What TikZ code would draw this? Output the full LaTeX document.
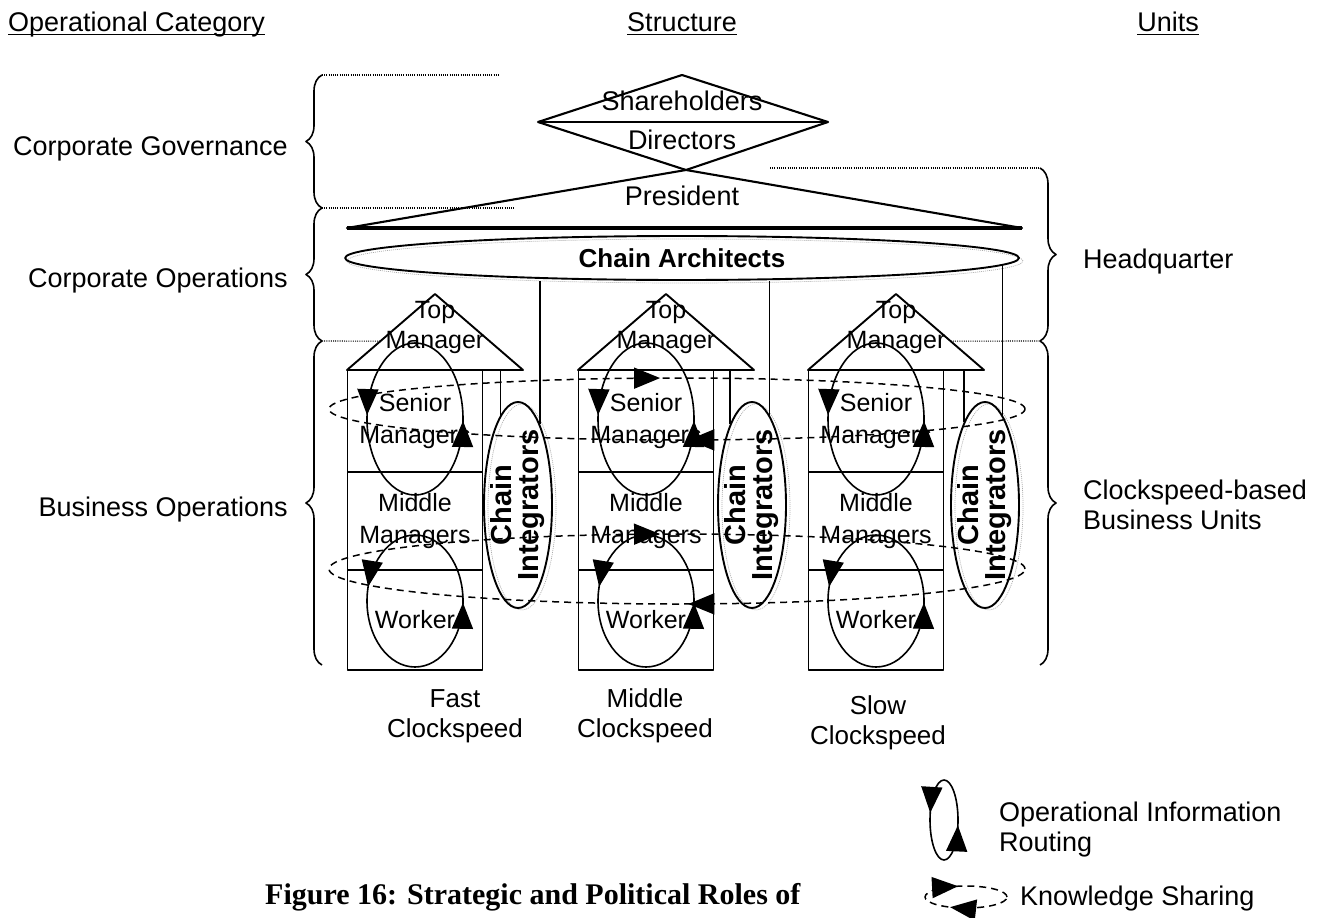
\documentclass[tikz,border=0pt]{standalone}
\usepackage{fontspec}
\setmainfont{Liberation Sans}
\newfontfamily\capfont{Liberation Serif}
\usetikzlibrary{shapes.geometric,decorations.pathreplacing,decorations.markings,arrows.meta,calc}

% underlined heading with the rule just below the baseline
\newcommand\headrule[1]{\setbox0\hbox{#1}\rlap{\rule[-4pt]{\wd0}{1.3pt}}\box0}

\tikzset{
  lbl/.style={font=\fontsize{27}{30}\selectfont, inner sep=0pt, align=center},
  sublbl/.style={font=\fontsize{26}{30}\selectfont, inner sep=0pt, align=center},
  boldlbl/.style={font=\fontsize{29}{27}\selectfont\bfseries, inner sep=0pt, align=center},
  cell/.style={draw, line width=1.9pt, minimum width=135pt, inner sep=0pt, align=center,
               font=\fontsize{25}{32}\selectfont},
  roofline/.style={line width=1.9pt},
  conn/.style={line width=1.6pt},
  bracket/.style={decorate, decoration={brace, amplitude=16pt}, line width=1.6pt},
  guide/.style={line width=1.1pt, dash pattern=on 1pt off 1.2pt},
  integ/.style={ellipse, draw, line width=1.9pt, minimum width=68pt, minimum height=206pt, inner sep=0pt},
  halo/.style={draw=gray!65, line width=0.7pt, dash pattern=on 1pt off 1pt},
  opflow/.style 2 args={line width=1.6pt, postaction={decorate},
     decoration={markings,
       mark=at position #1 with {\arrow{Triangle[length=26pt,width=21pt]}},
       mark=at position #2 with {\arrow{Triangle[length=26pt,width=21pt]}}}},
  share/.style 2 args={line width=1.5pt, dash pattern=on 7pt off 5pt, postaction={decorate},
     decoration={markings,
       mark=at position #1 with {\arrowreversed{Triangle[length=26pt,width=21pt]}},
       mark=at position #2 with {\arrowreversed{Triangle[length=26pt,width=21pt]}}}},
}

\begin{document}
\begin{tikzpicture}[x=1pt, y=-1pt, line join=round]
\useasboundingbox (0,0) rectangle (1317,918);

% ---------- column headings ----------
\node[lbl, anchor=base west] (hcat) at (8,31) {\headrule{Operational Category}};
\node[lbl, anchor=base] (hstr) at (682,31) {\headrule{Structure}};
\node[lbl, anchor=base] (hunit) at (1168,31) {\headrule{Units}};

% ---------- operational categories (left) ----------
\coordinate (L0) at (322,75);
\coordinate (L1) at (322,208);
\coordinate (L2) at (322,341);
\coordinate (L3) at (322,665);
\draw[bracket] (L1) -- (L0);
\draw[bracket] (L2) -- (L1);
\draw[bracket] (L3) -- (L2);
\node[lbl, anchor=east] (cg) at (288,149) {Corporate Governance};
\node[lbl, anchor=east] (co) at (288,281) {Corporate Operations};
\node[lbl, anchor=east] (bo) at (288,510) {Business Operations};

% ---------- units (right) ----------
\coordinate (R0) at (1040,168);
\coordinate (R1) at (1040,341);
\coordinate (R2) at (1040,665);
\draw[bracket] (R0) -- (R1);
\draw[bracket] (R1) -- (R2);
\node[lbl, anchor=west] (hq) at (1083,262) {Headquarter};
\node[lbl, anchor=west, align=left] (bu) at (1083,505) {Clockspeed-based\\Business Units};

% ---------- governance: shareholders / directors / president ----------
\coordinate (dl) at (538,122);
\coordinate (dt) at (682,75);
\coordinate (dr) at (828,122);
\coordinate (db) at (686,170);
\coordinate (pl) at (347,228);
\coordinate (pr) at (1022,228);
\draw[line width=2.1pt] (dl) -- (dt) -- (dr) -- (db) -- cycle;
\draw[line width=2.6pt] (dl) -- (dr);
\draw[line width=2.1pt] (db) -- (pr) -- (pl) -- cycle;
\draw[line width=3.2pt] (pl) -- (pr);
\node[lbl] (sh) at (682,101) {Shareholders};
\node[lbl] (dir) at (682,140) {Directors};
\node[lbl] (pres) at (682,196) {President};

\draw[guide] (L0) -- (500,75);
\draw[guide] (L1) -- (515,208);
\draw[guide] (770,168) -- (R0);

% ---------- chain architects ----------
\draw[halo] (685,261) ellipse [x radius=338pt, y radius=22pt];
\node[ellipse, draw, line width=1.9pt, minimum width=674pt, minimum height=44pt, inner sep=0pt,
      font=\fontsize{26}{28}\selectfont\bfseries] (arch) at (682,258) {Chain Architects};

% ---------- three clockspeed business units ----------
\foreach \i/\bx/\cx/\ix in {1/347/415/518, 2/578/646/752, 3/808/876/985} {
  % roof with the top manager
  \coordinate (r\i l) at (\bx,370);
  \coordinate (r\i t) at ({\bx+88},294);
  \coordinate (r\i r) at ({\bx+176},370);
  \draw[roofline] (r\i l) -- (r\i t) -- (r\i r) -- cycle;
  \node[lbl, font=\fontsize{25}{30}\selectfont] (top\i) at ({\bx+88},327) {Top\\Manager};
  % management levels
  \node[cell, minimum height=102pt] (s\i) at (\cx,421) {Senior\\Managers};
  \node[cell, minimum height=98pt]  (m\i) at (\cx,521) {Middle\\Managers};
  \node[cell, minimum height=100pt] (w\i) at (\cx,620) {Worker};
  % chain integrators
  \draw[halo] ({\ix+4},507) ellipse [x radius=34pt, y radius=103pt];
  \node[integ] (ci\i) at (\ix,505) {};
  \node[boldlbl, rotate=90] (cit\i) at (ci\i) {Chain\\Integrators};
  % operational information routing loops
  \draw[opflow={0.49}{0.995}] (\cx,419) ellipse [x radius=48pt, y radius=76pt];
  \draw[opflow={0.46}{0.995}] (\cx,601) ellipse [x radius=48pt, y radius=66pt];
}

% links from the roofs down to the chain integrators
\draw[conn] (ci1.101) -- (ci1.101 |- s1.north);
\draw[conn] (ci2.105) -- (ci2.105 |- s2.north);
\draw[conn] (ci3.104) -- (ci3.104 |- s3.north);

% links from the chain architects to the chain integrators
\draw[conn] (ci1.75) -- (ci1.75 |- arch.south);
\draw[conn] (ci2.79) -- (ci2.79 |- arch.south);
\draw[conn] (ci3.79) -- (ci3.79 |- arch.-1.25);

% guides from the brackets to the business units
\draw[guide] (L2) -- ($(r1l)!0.38!(r1t)$);
\draw[guide] ($(r3r)!0.38!(r3t)$) -- (R1);

% knowledge sharing loops across the units
\draw[share={0.262}{0.758}] (677,409) ellipse [x radius=348pt, y radius=31pt];
\draw[share={0.262}{0.758}] (677,569) ellipse [x radius=348pt, y radius=35pt];

% ---------- clockspeed labels ----------
\node[sublbl] (fast) at (455,716) {Fast\\Clockspeed};
\node[sublbl] (mid) at (645,716) {Middle\\Clockspeed};
\node[sublbl] (slow) at (878,723) {Slow\\Clockspeed};

% ---------- legend ----------
\draw[opflow={0.46}{0.97}] (944,820) ellipse [x radius=14pt, y radius=40pt];
\node[lbl, anchor=west, align=left] (lgop) at (999,830) {Operational Information\\Routing};
\draw[share={0.295}{0.66}] (966,897) ellipse [x radius=41pt, y radius=11pt];
\node[lbl, anchor=west] (lgks) at (1020,899) {Knowledge Sharing};

% ---------- caption ----------
\node[anchor=base west, inner sep=0pt, font=\capfont\bfseries\fontsize{30}{32}\selectfont] (cap)
  at (265,904) {Figure 16: Strategic and Political Roles of};
\end{tikzpicture}
\end{document}
